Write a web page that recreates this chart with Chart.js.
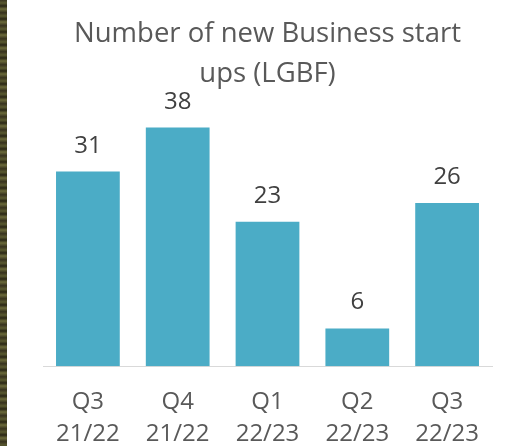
<!DOCTYPE html>
<html>
<head>
<meta charset="utf-8">
<script src="https://cdn.jsdelivr.net/npm/chart.js@4"></script>
<style>
  html, body { margin: 0; padding: 0; background: #fff; }
  #wrap { position: relative; width: 518px; height: 446px; overflow: hidden; }
  #strip {
    position: absolute; left: 0; top: 0; width: 7px; height: 446px;
    background: repeating-linear-gradient(180deg, #3b3520 0px, #5a5a30 3px, #2a2615 6px, #6b6a3a 9px, #332e1c 13px);
  }
</style>
</head>
<body>
<div id="wrap">
  <canvas id="startupChart" width="518" height="446"></canvas>
  <div id="strip"></div>
</div>
<script>
// ===== DATA =====
const quarters = [["Q3", "21/22"], ["Q4", "21/22"], ["Q1", "22/23"], ["Q2", "22/23"], ["Q3", "22/23"]];
const startups = [31, 38, 23, 6, 26];
const titleLines = ["Number of new Business start", "ups (LGBF)"];

// ===== VALUE LABELS ABOVE BARS =====
const valueLabels = {
  id: "valueLabels",
  afterDatasetsDraw(chart) {
    const ctx = chart.ctx;
    const meta = chart.getDatasetMeta(0);
    ctx.save();
    ctx.font = "24px 'Open Sans'";
    ctx.fillStyle = "#404040";
    ctx.textAlign = "center";
    ctx.textBaseline = "alphabetic";
    meta.data.forEach((bar, i) => {
      ctx.fillText(String(startups[i]), bar.x, bar.y - 19);
    });
    ctx.restore();
  }
};

const ctx = document.getElementById("startupChart").getContext("2d");
new Chart(ctx, {
  type: "bar",
  data: {
    labels: quarters,
    datasets: [{
      data: startups,
      backgroundColor: "#4bacc6",
      borderWidth: 0,
      categoryPercentage: 0.71,
      barPercentage: 1,
    }],
  },
  options: {
    responsive: false,
    animation: false,
    layout: {
      padding: { left: 43, right: 26, top: 0, bottom: -24 },
    },
    scales: {
      y: {
        display: false,
        min: 0,
        max: 40,
      },
      x: {
        grid: { display: false, drawTicks: false },
        border: { display: true, color: "#d9d9d9", width: 1 },
        ticks: {
          color: "#595959",
          padding: 20,
          font: { family: "Open Sans", size: 24, lineHeight: 1.33 },
        },
      },
    },
    plugins: {
      legend: { display: false },
      tooltip: { enabled: false },
      title: {
        display: true,
        text: titleLines,
        color: "#595959",
        font: { family: "Open Sans", size: 27.5, weight: "normal", lineHeight: 1.455 },
        padding: { top: 14, bottom: 21 },
      },
    },
  },
  plugins: [valueLabels],
});
</script>
</body>
</html>
